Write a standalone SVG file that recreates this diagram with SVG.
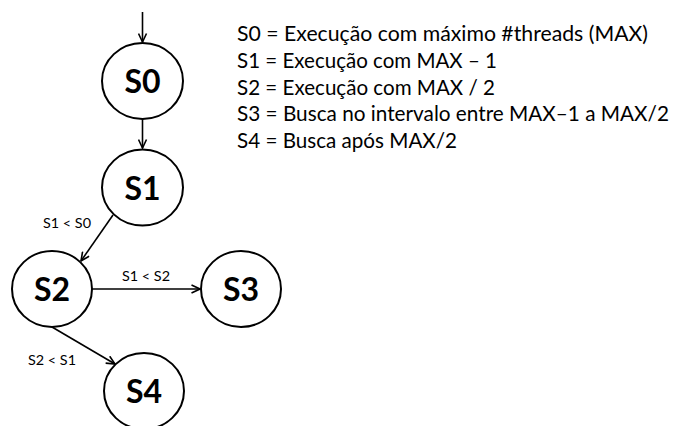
<svg xmlns="http://www.w3.org/2000/svg" width="675" height="426" viewBox="0 0 675 426">
<defs>
<marker id="arr" viewBox="0 0 10 10" refX="9.5" refY="5" markerWidth="10" markerHeight="10" markerUnits="userSpaceOnUse" orient="auto">
<path d="M1,1 L9.5,5 L1,9" fill="none" stroke="#000" stroke-width="1.6"/>
</marker>
</defs>
<style>
.node ellipse{fill:#fff;stroke:#000;stroke-width:2}
.node text{font-family:Lato,"Liberation Sans",sans-serif;font-weight:bold;font-size:32px;text-anchor:middle}
.edge line{stroke:#000;stroke-width:1.6;marker-end:url(#arr)}
.lbl{font-family:Lato,"Liberation Sans",sans-serif;font-size:13.5px}
.leg{font-family:Lato,"Liberation Sans",sans-serif;font-size:21px}
</style>
<rect width="675" height="426" fill="#fff"/>
<g id="connectors" class="edge">
<line x1="142.5" y1="12" x2="142.5" y2="42"/>
<line x1="142.5" y1="119" x2="142.5" y2="148"/>
<line x1="113" y1="215" x2="81" y2="261"/>
<line x1="92" y1="289" x2="200" y2="289"/>
<line x1="52" y1="327" x2="115" y2="364"/>
</g>
<g id="edge-labels" class="lbl">
<text x="43" y="228" textLength="48" lengthAdjust="spacingAndGlyphs">S1 &lt; S0</text>
<text x="122" y="281" textLength="48" lengthAdjust="spacingAndGlyphs">S1 &lt; S2</text>
<text x="28" y="365" textLength="48" lengthAdjust="spacingAndGlyphs">S2 &lt; S1</text>
</g>
<g id="S0" class="node"><ellipse cx="142.5" cy="81" rx="40.5" ry="38"/><text x="142.5" y="93">S0</text></g>
<g id="S1" class="node"><ellipse cx="142.5" cy="187.5" rx="40.5" ry="38"/><text x="142.5" y="199.5">S1</text></g>
<g id="S2" class="node"><ellipse cx="52" cy="289" rx="40" ry="38"/><text x="52" y="301">S2</text></g>
<g id="S3" class="node"><ellipse cx="241" cy="289" rx="40" ry="38"/><text x="241" y="301">S3</text></g>
<g id="S4" class="node"><ellipse cx="144" cy="391" rx="40" ry="38"/><text x="144" y="403">S4</text></g>
<g id="legend" class="leg">
<text x="237" y="41" textLength="411" lengthAdjust="spacingAndGlyphs">S0 = Execução com máximo #threads (MAX)</text>
<text x="237" y="68" textLength="260" lengthAdjust="spacingAndGlyphs">S1 = Execução com MAX – 1</text>
<text x="237" y="94.5" textLength="258" lengthAdjust="spacingAndGlyphs">S2 = Execução com MAX / 2</text>
<text x="237" y="121" textLength="432" lengthAdjust="spacingAndGlyphs">S3 = Busca no intervalo entre MAX–1 a MAX/2</text>
<text x="237" y="148" textLength="220" lengthAdjust="spacingAndGlyphs">S4 = Busca após MAX/2</text>
</g>
</svg>
